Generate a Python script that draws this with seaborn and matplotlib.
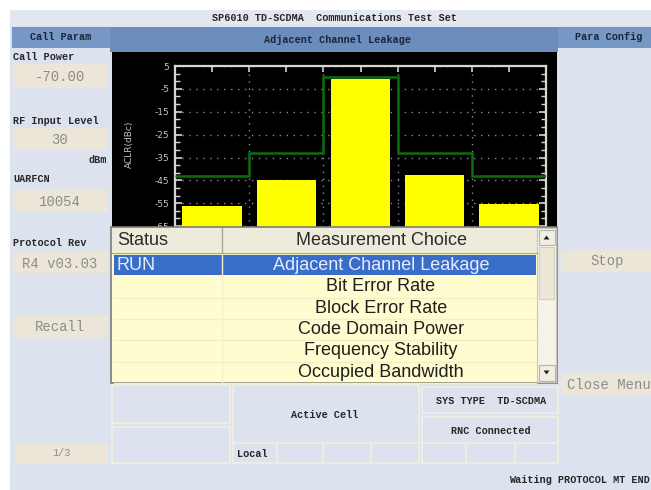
import numpy as np
import pandas as pd
import matplotlib
matplotlib.use("Agg")
import matplotlib.pyplot as plt
from matplotlib.patches import Rectangle, Polygon
from matplotlib.ticker import AutoMinorLocator
import seaborn as sns

# ---------------------------------------------------------------- data
channels = ["-3.2MHz", "-1.6MHz", "0", "+1.6MHz", "+3.2MHz"]
aclr_dbc = [-56.0, -45.0, -0.7, -42.5, -55.5]
limit_dbc = [-43.0, -33.0, 0.0, -33.0, -43.0]
aclr_ticks = [-65, -55, -45, -35, -25, -15, -5, 5]
aclr_floor = -75

measurements = ["Adjacent Channel Leakage", "Bit Error Rate", "Block Error Rate",
                "Code Domain Power", "Frequency Stability", "Occupied Bandwidth"]
meas_status = ["RUN", "", "", "", "", ""]

param_labels = ["Call Power", "RF Input Level", "UARFCN", "Protocol Rev"]
param_values = ["-70.00", "30", "10054", "R4 v03.03"]

# ---------------------------------------------------------------- style
plt.rcParams["axes.unicode_minus"] = False
W, H = 651, 490
PANEL = "#dde3ee"
TITLEBAR = "#e2e7f0"
BLUE = "#6b8dbd"
BLUE_CELL = "#7598c6"
BEIGE = "#ebe6d8"
EDGE = "#eeece4"
MONO = "Liberation Mono"
SANS = "Liberation Sans"
DARK = "#262626"
GREYTXT = "#8c8c8c"

fig = plt.figure(figsize=(W / 100, H / 100), dpi=100)
fig.patch.set_facecolor("white")


def frac(x0, y0, x1, y1):
    return [x0 / W, 1 - y1 / H, (x1 - x0) / W, (y1 - y0) / H]


def pixel_axes(z):
    a = fig.add_axes([0, 0, 1, 1], zorder=z)
    a.set_xlim(0, W)
    a.set_ylim(H, 0)
    a.axis("off")
    a.patch.set_alpha(0)
    return a


def box(a, x0, y0, x1, y1, fc, ec="none", lw=0.0, z=1):
    a.add_patch(Rectangle((x0, y0), x1 - x0, y1 - y0, facecolor=fc,
                          edgecolor=ec, linewidth=lw, zorder=z))


def label(a, x, y, s, size=7.3, color=DARK, ha="left", weight="bold",
          family=MONO, z=3):
    a.text(x, y, s, fontsize=size, color=color, ha=ha, va="center",
           fontweight=weight, family=family, zorder=z)


def value(a, x, y, s, ha="center"):
    label(a, x, y, s, size=10, color=GREYTXT, ha=ha, weight="normal")


# ---------------------------------------------------------------- frame
bg = pixel_axes(0)
box(bg, 10, 10, W, H, PANEL)
box(bg, 10, 10, W, 26, TITLEBAR)
label(bg, 334, 18, "SP6010 TD-SCDMA  Communications Test Set", ha="center")

box(bg, 12, 27, W, 52, BLUE)
box(bg, 12, 27, 110, 48, BLUE_CELL)
box(bg, 12, 48, 110, 52, PANEL)
box(bg, 558, 27, W, 48, BLUE_CELL)
box(bg, 558, 48, W, 52, PANEL)
label(bg, 61, 37, "Call Param", ha="center", color="#1c2436")
label(bg, 337, 40, "Adjacent Channel Leakage", ha="center", color="#1c2436")
label(bg, 609, 37, "Para Config", ha="center", color="#1c2436")

# black display area behind the ACLR chart
box(bg, 112, 52, 557, 232, "black")

# left parameter column
param_rows = [(57, 64, 88), (121, 128, 150), (179, 190, 212), (243, 252, 273)]
for name, val, (ly, b0, b1) in zip(param_labels, param_values, param_rows):
    label(bg, 13, ly, name)
    box(bg, 13, b0, 108, b1, BEIGE)
    value(bg, 60, (b0 + b1) / 2 + 1, val)
label(bg, 107, 160, "dBm", ha="right")
box(bg, 13, 316, 108, 338, BEIGE)
value(bg, 60, 327, "Recall")
box(bg, 15, 443, 108, 463, BEIGE)
label(bg, 61, 453, "1/3", ha="center", color=GREYTXT, weight="normal")

# right soft-key column
box(bg, 561, 250, W, 272, BEIGE)
value(bg, 607, 261, "Stop")
box(bg, 561, 373, W, 396, BEIGE)
value(bg, 567, 385, "Close Menu", ha="left")

# status area below the display
for x0, y0, x1, y1 in [(112, 385, 230, 423), (112, 427, 230, 463),
                       (233, 385, 419, 443), (422, 387, 558, 413),
                       (422, 417, 558, 443)]:
    box(bg, x0, y0, x1, y1, PANEL, ec=EDGE, lw=1.5)
cell_edges = [233, 277, 323, 371, 419, 422, 466, 515, 558]
for x0, x1 in zip(cell_edges[:-1], cell_edges[1:]):
    if x0 != 419:
        box(bg, x0, 443, x1, 463, PANEL, ec=EDGE, lw=1.5)
label(bg, 325, 415, "Active Cell", ha="center")
label(bg, 491, 401, "SYS TYPE  TD-SCDMA", ha="center")
label(bg, 491, 431, "RNC Connected", ha="center")
label(bg, 237, 454, "Local")
label(bg, 509, 480, "Waiting PROTOCOL MT END")

# ---------------------------------------------------------------- chart
ax = fig.add_axes(frac(175, 66, 546, 249), zorder=1)
ax.set_facecolor("black")

df = pd.DataFrame({"channel": channels, "aclr": aclr_dbc})
df["rise"] = df["aclr"] - aclr_floor
sns.barplot(data=df, x="channel", y="rise", bottom=aclr_floor,
            color="#ffff00", saturation=1, width=0.8, errorbar=None,
            edgecolor="none", ax=ax, zorder=2)

edges = np.arange(len(channels) + 1) - 0.5
ax.stairs(limit_dbc, edges, baseline=None, color="#0b6e10",
          linewidth=1.8, zorder=3)

ax.set_xlim(edges[0], edges[-1])
ax.set_ylim(aclr_floor, max(aclr_ticks))
ax.set_yticks(aclr_ticks)
ax.yaxis.set_minor_locator(AutoMinorLocator(3))
ax.set_xticks(np.arange(edges[0], edges[-1] + 0.25, 0.5))
ax.set_xticklabels([])
ax.set_xlabel("")
ax.set_ylabel("ACLR(dBc)", color="#c4c4c4", fontsize=6.5, family="DejaVu Sans")
ax.yaxis.set_label_coords(-0.112, 0.57)

ax.tick_params(axis="x", which="major", direction="in", top=True,
               bottom=False, labeltop=False, labelbottom=False,
               length=4, width=1.2, color="#d6d6d6")
ax.tick_params(axis="y", which="both", direction="in", left=True,
               right=True, labelleft=True, labelright=False,
               color="#d6d6d6", labelcolor="#c4c4c4", labelsize=6.5, pad=4)
ax.tick_params(axis="y", which="major", length=5, width=1.2)
ax.tick_params(axis="y", which="minor", length=3.5, width=1.0)

ax.set_axisbelow(True)
ax.grid(axis="y", which="major", color="#8c8c8c", linewidth=1,
        linestyle=(0, (1, 4)))
for b in edges[1:-1]:
    ax.axvline(b, color="#8c8c8c", linewidth=1, linestyle=(0, (1, 4)),
               zorder=1)
for side, sp in ax.spines.items():
    sp.set_color("#d6d6d6")
    sp.set_linewidth(1.6)
ax.spines["bottom"].set_visible(False)

# ---------------------------------------------------------------- menu
ov = pixel_axes(2)
box(ov, 111, 227, 557, 383, "#fffcd0", ec="#7c7c74", lw=1.2)
box(ov, 112, 228, 537, 252, "#eeebdc")
ov.plot([222, 222], [228, 252], color="#a8a69a", lw=1, zorder=2)
ov.plot([112, 537], [252.5, 252.5], color="#a8a69a", lw=1, zorder=2)
label(ov, 117, 240, "Status", size=13, color="#2a2a2a", weight="normal",
      family=SANS)
label(ov, 381, 240, "Measurement Choice", size=13, color="#2a2a2a",
      weight="normal", family=SANS, ha="center")

row_h = 21.3
row_top = 255
for i, (st, meas) in enumerate(zip(meas_status, measurements)):
    y0 = row_top + i * row_h
    yc = y0 + row_h / 2
    if st:
        box(ov, 114, y0, 536, y0 + row_h - 1, "#3a6cc9", z=2)
        tc = "#e6edfa"
    else:
        ov.plot([114, 536], [y0 + row_h, y0 + row_h], color="#f2eecb",
                lw=1, zorder=2)
        tc = "#1e1e1e"
    ov.plot([222, 222], [y0, y0 + row_h], color="#f4f0d0", lw=1, zorder=2.5)
    label(ov, 117, yc, st, size=13, color=tc, weight="normal", family=SANS)
    label(ov, 381, yc, meas, size=13, color=tc, weight="normal",
          family=SANS, ha="center")

# scrollbar
box(ov, 537, 228, 556, 382, "#f5f3ea", ec="#c8c6ba", lw=0.8)
box(ov, 538.5, 229.5, 554.5, 245, "#f1efe4", ec="#b8b6aa", lw=0.8)
box(ov, 538.5, 365, 554.5, 380.5, "#f1efe4", ec="#b8b6aa", lw=0.8)
box(ov, 539, 247, 554, 299, "#ebe8d6", ec="#d2cfc0", lw=0.8)
ov.add_patch(Polygon([[543.5, 239.5], [549.5, 239.5], [546.5, 235.5]],
                     closed=True, facecolor="#222222", zorder=3))
ov.add_patch(Polygon([[543.5, 370.5], [549.5, 370.5], [546.5, 374.5]],
                     closed=True, facecolor="#222222", zorder=3))

fig.savefig("out.png", dpi=100, facecolor="white")
